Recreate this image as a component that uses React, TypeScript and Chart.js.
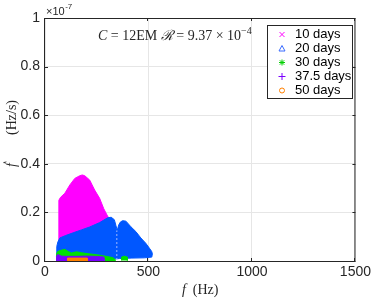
import { useEffect, useRef } from "react";
import { Chart, registerables } from "chart.js";

Chart.register(...registerables);

// axis ticks
const xTicks = [0, 500, 1000, 1500];
const yTicks = [0, 0.2, 0.4, 0.6, 0.8, 1];
const yExponent = "-7";

// legend
const seriesNames = ["10 days", "20 days", "30 days", "37.5 days", "50 days"];
const seriesColors = ["#ff00ff", "#0057ff", "#00e000", "#7a00ff", "#ff8000"];
const legendMarkerColors = ["#ff00ff", "#3a6cff", "#00d000", "#7a00ff", "#ff8000"];

// outlines of each point cloud: f in Hz, fdot in units of 1e-7 Hz/s
const f10 = [67, 67, 75, 96, 120, 144, 168, 180, 192, 216, 240, 264, 284, 304, 304];
const fd10 = [0, 0.25, 0.262, 0.279, 0.313, 0.34, 0.351, 0.354, 0.351, 0.333, 0.292, 0.258, 0.215, 0.182, 0];

const f20 = [56, 57, 62, 72, 100, 136, 176, 216, 264, 303, 320, 335, 343, 349, 356, 364, 375, 391, 415, 439, 463, 487, 505, 515, 519, 516, 480, 420, 360, 300, 200, 100, 56];
const fd20 = [0.01, 0.06, 0.078, 0.095, 0.105, 0.116, 0.128, 0.14, 0.158, 0.178, 0.18, 0.17, 0.145, 0.126, 0.148, 0.16, 0.166, 0.164, 0.141, 0.121, 0.095, 0.073, 0.052, 0.04, 0.03, 0.016, 0.013, 0.012, 0.01, 0.006, 0.002, 0, 0];

const f20gap = [347, 347];
const fd20gap = [0.004, 0.126];

const f30 = [56, 56, 60, 72, 96, 112, 128, 152, 176, 208, 256, 304, 330, 338, 338];
const fd30 = [0, 0.028, 0.038, 0.043, 0.048, 0.039, 0.033, 0.038, 0.034, 0.03, 0.025, 0.018, 0.013, 0.006, 0];

const f30b = [370, 370, 384, 398, 398];
const fd30b = [0.002, 0.016, 0.02, 0.016, 0.002];

const f375 = [56, 56, 62, 68, 80, 100, 150, 200, 250, 285, 288];
const fd375 = [0, 0.02, 0.027, 0.024, 0.02, 0.019, 0.019, 0.02, 0.019, 0.016, 0];

const f50 = [109, 109, 204, 204];
const fd50 = [0, 0.012, 0.012, 0];

const pts = (xs: number[], ys: number[]) => xs.map((x, i) => ({ x, y: ys[i] }));

const shape = (data: { x: number; y: number }[], color: string, order: number) => ({
  data,
  showLine: true,
  borderColor: color,
  backgroundColor: color,
  borderWidth: 1,
  pointRadius: 0,
  fill: "shape" as const,
  order,
});

const framePlugin = {
  id: "frame",
  afterDraw(chart: any) {
    const { ctx, chartArea } = chart;
    const { left, right, top, bottom } = chartArea;
    const xs = chart.scales.x;
    const ys = chart.scales.y;
    ctx.save();
    // box
    ctx.strokeStyle = "#262626";
    ctx.lineWidth = 1;
    ctx.strokeRect(left - 0.5, top + 0.5, right - left, bottom - top);
    // inward ticks
    ctx.beginPath();
    xTicks.forEach((v) => {
      const p = Math.round(xs.getPixelForValue(v)) - 0.5;
      ctx.moveTo(p, bottom);
      ctx.lineTo(p, bottom - 3);
      ctx.moveTo(p, top);
      ctx.lineTo(p, top + 3);
    });
    yTicks.forEach((v) => {
      const p = Math.round(ys.getPixelForValue(v)) + 0.5;
      ctx.moveTo(left, p);
      ctx.lineTo(left + 3, p);
      ctx.moveTo(right, p);
      ctx.lineTo(right - 3, p);
    });
    ctx.stroke();

    // exponent label
    ctx.fillStyle = "#262626";
    ctx.textBaseline = "alphabetic";
    ctx.textAlign = "left";
    ctx.font = '11px "Liberation Sans"';
    ctx.fillText("\u00d710", left + 1, top - 3);
    const w10 = ctx.measureText("\u00d710").width;
    ctx.font = '8px "Liberation Sans"';
    ctx.fillText(yExponent, left + 1 + w10 + 0.5, top - 9);

    // annotation
    ctx.fillStyle = "#262626";
    let x = 98;
    const base = 40;
    const seg = (t: string, font: string, dy = 0) => {
      ctx.font = font;
      ctx.fillText(t, x, base + dy);
      x += ctx.measureText(t).width;
    };
    const rom = '14px "Liberation Serif"';
    const ital = 'italic 14px "Liberation Serif"';
    seg("C", ital);
    seg(" = 12EM ", rom);
    seg("\u211b", ital);
    seg(" = 9.37 \u00d7 10", rom);
    seg("\u22124", '10px "Liberation Serif"', -6);

    // x title
    ctx.font = ital;
    const wf = ctx.measureText("f").width;
    ctx.font = rom;
    const wh = ctx.measureText("(Hz)").width;
    const total = wf + 7 + wh;
    const cx = (left + right) / 2;
    ctx.font = ital;
    ctx.fillText("f", cx - total / 2, 294);
    ctx.font = rom;
    ctx.fillText("(Hz)", cx - total / 2 + wf + 7, 294);

    // y title
    ctx.save();
    ctx.translate(16, 167);
    ctx.rotate(-Math.PI / 2);
    ctx.font = ital;
    ctx.fillText("\u1e1f", 0, 0);
    ctx.font = rom;
    ctx.fillText("(Hz/s)", 32, 0);
    ctx.restore();

    // legend
    const lx = 267;
    const ly = 25;
    const lw = 85;
    const lh = 73;
    ctx.fillStyle = "#ffffff";
    ctx.fillRect(lx, ly, lw, lh);
    ctx.strokeStyle = "#262626";
    ctx.lineWidth = 1;
    ctx.strokeRect(lx + 0.5, ly + 0.5, lw, lh);
    ctx.font = '13px "Liberation Sans"';
    ctx.textBaseline = "middle";
    seriesNames.forEach((name, i) => {
      const cy = 34.5 + i * 14;
      const mx = 282;
      const c = legendMarkerColors[i];
      ctx.strokeStyle = c;
      ctx.lineWidth = 1;
      ctx.beginPath();
      if (i === 0) {
        ctx.moveTo(mx - 2.5, cy - 2.5);
        ctx.lineTo(mx + 2.5, cy + 2.5);
        ctx.moveTo(mx + 2.5, cy - 2.5);
        ctx.lineTo(mx - 2.5, cy + 2.5);
      } else if (i === 1) {
        ctx.moveTo(mx, cy - 3);
        ctx.lineTo(mx + 3, cy + 2.5);
        ctx.lineTo(mx - 3, cy + 2.5);
        ctx.closePath();
      } else if (i === 2) {
        ctx.moveTo(mx - 3, cy);
        ctx.lineTo(mx + 3, cy);
        ctx.moveTo(mx, cy - 3);
        ctx.lineTo(mx, cy + 3);
        ctx.moveTo(mx - 2.2, cy - 2.2);
        ctx.lineTo(mx + 2.2, cy + 2.2);
        ctx.moveTo(mx + 2.2, cy - 2.2);
        ctx.lineTo(mx - 2.2, cy + 2.2);
      } else if (i === 3) {
        ctx.moveTo(mx - 3.5, cy);
        ctx.lineTo(mx + 3.5, cy);
        ctx.moveTo(mx, cy - 3.5);
        ctx.lineTo(mx, cy + 3.5);
      } else {
        ctx.arc(mx, cy, 2.5, 0, Math.PI * 2);
      }
      ctx.stroke();
      ctx.fillStyle = "#000000";
      ctx.fillText(name, 295, cy);
    });
    ctx.restore();
  },
};

export default function App() {
  const ref = useRef<HTMLCanvasElement | null>(null);
  useEffect(() => {
    if (!ref.current) return;
    const chart = new Chart(ref.current, {
      type: "scatter",
      data: {
        datasets: [
          shape(pts(f10, fd10), seriesColors[0], 6),
          shape(pts(f20, fd20), seriesColors[1], 5),
          {
            data: pts(f20gap, fd20gap),
            showLine: true,
            borderColor: "#9fbaff",
            borderWidth: 1,
            borderDash: [2, 2],
            pointRadius: 0,
            fill: false,
            order: 4,
          },
          shape(pts(f30, fd30), seriesColors[2], 3),
          shape(pts(f30b, fd30b), seriesColors[2], 3),
          shape(pts(f375, fd375), seriesColors[3], 1),
          shape(pts(f50, fd50), seriesColors[4], 0),
        ] as any,
      },
      options: {
        animation: false,
        responsive: true,
        maintainAspectRatio: false,
        layout: { padding: { left: 0, right: 16, top: 18, bottom: 0 } },
        plugins: { legend: { display: false }, tooltip: { enabled: false } },
        scales: {
          x: {
            type: "linear",
            min: 0,
            max: 1500,
            afterBuildTicks: (s: any) => {
              s.ticks = xTicks.map((v) => ({ value: v }));
            },
            afterFit: (s: any) => {
              s.height = 37;
            },
            ticks: {
              callback: (v: any) => String(v),
              font: { family: "Liberation Sans", size: 14 },
              color: "#262626",
              padding: 3,
              maxRotation: 0,
            },
            grid: { color: "#e6e6e6", drawTicks: false },
            border: { display: false },
          },
          y: {
            type: "linear",
            min: 0,
            max: 1,
            afterBuildTicks: (s: any) => {
              s.ticks = yTicks.map((v) => ({ value: v }));
            },
            afterFit: (s: any) => {
              s.width = 45;
            },
            ticks: {
              callback: (v: any) => String(Math.round(Number(v) * 10) / 10),
              font: { family: "Liberation Sans", size: 14 },
              color: "#262626",
              padding: 5,
            },
            grid: { color: "#e6e6e6", drawTicks: false },
            border: { display: false },
          },
        },
      },
      plugins: [framePlugin],
    });
    return () => chart.destroy();
  }, []);
  return (
    <div style={{ position: "fixed", left: 0, top: 0, width: 374, height: 298, background: "#fff" }}>
      <canvas ref={ref} />
    </div>
  );
}
